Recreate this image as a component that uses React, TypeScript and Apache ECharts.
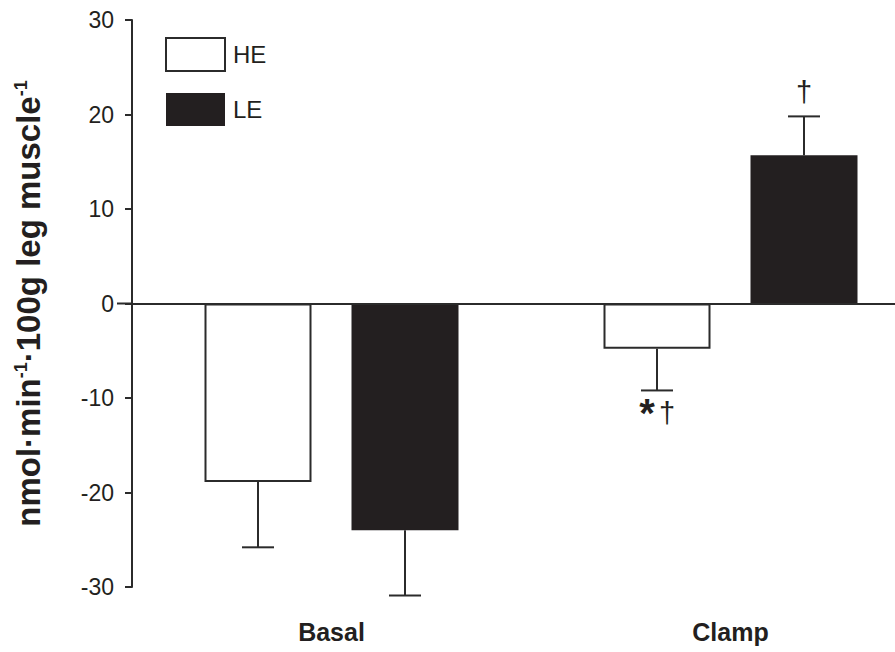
import React, { useEffect, useRef } from "react";
import * as echarts from "echarts";

// Leg muscle flux, mean ± SE, for the two groups in the basal and clamp states
const categories = ["Basal", "Clamp"];
const groups = ["HE", "LE"];
const heValues = [-18.9, -4.8];
const heErrors = [6.9, 4.4];
const leValues = [-24.0, 15.7];
const leErrors = [6.9, 4.1];
const heMarks = ["", "*†"];
const leMarks = ["", "†"];
const yTicks = { min: -30, max: 30, interval: 10 };

const FONT = "'Liberation Sans', Arial, Helvetica, sans-serif";
const INK = "#231f20";
const LINE = "#2b2b2b";
const BAR_W = 107;
const BAR_GAP = 40;

export default function App() {
  const ref = useRef<HTMLDivElement>(null);

  useEffect(() => {
    document.body.style.margin = "0";
    const chart = echarts.init(ref.current!, null, { renderer: "svg" });

    const errData: number[][] = [];
    const errMarks: string[] = [];
    [heValues, leValues].forEach((vals, g) => {
      const errs = g === 0 ? heErrors : leErrors;
      const marks = g === 0 ? heMarks : leMarks;
      vals.forEach((v, i) => {
        errData.push([i, v, errs[i], g]);
        errMarks.push(marks[i]);
      });
    });

    const half = (BAR_W + BAR_GAP) / 2;

    chart.setOption({
      animation: false,
      // the plotting area runs on past the right edge of the figure
      grid: {
        left: 132,
        width: 798,
        top: 20,
        bottom: 65,
        containLabel: false,
        outerBoundsMode: "none",
      },
      legend: {
        left: 165,
        top: 37,
        orient: "vertical",
        padding: 0,
        itemWidth: 59,
        itemHeight: 33,
        itemGap: 21,
        icon: "rect",
        textStyle: { fontFamily: FONT, fontSize: 24, color: INK, padding: [0, 0, 0, 3] },
        data: [
          { name: "HE", itemStyle: { color: "#ffffff", borderColor: LINE, borderWidth: 2 } },
          { name: "LE", itemStyle: { color: INK, borderColor: INK, borderWidth: 0 } },
        ],
      },
      xAxis: {
        type: "category",
        data: categories,
        axisLine: { show: false, onZero: false },
        axisTick: { show: false },
        axisLabel: {
          fontFamily: FONT,
          fontSize: 25,
          fontWeight: "bold",
          color: INK,
          margin: 32,
        },
      },
      yAxis: {
        type: "value",
        min: yTicks.min,
        max: yTicks.max,
        interval: yTicks.interval,
        splitLine: { show: false },
        axisLine: { show: true, lineStyle: { color: LINE, width: 2 } },
        axisTick: { show: true, length: 7, lineStyle: { color: LINE, width: 2 } },
        axisLabel: { fontFamily: FONT, fontSize: 23, color: INK, margin: 18 },
        name: "nmol·min{sup|-1}·100g leg muscle{sup|-1}",
        nameLocation: "middle",
        nameRotate: 90,
        nameGap: 87,
        nameTextStyle: {
          fontFamily: FONT,
          fontSize: 33,
          fontWeight: "bold",
          color: INK,
          rich: {
            sup: {
              fontFamily: FONT,
              fontSize: 18,
              fontWeight: "bold",
              color: INK,
              verticalAlign: "top",
            },
          },
        },
      },
      series: [
        {
          name: groups[0],
          type: "bar",
          data: heValues,
          barWidth: BAR_W,
          barGap: (BAR_GAP / BAR_W) * 100 + "%",
          itemStyle: { color: "#ffffff", borderColor: LINE, borderWidth: 2 },
          markLine: {
            silent: true,
            symbol: ["none", "none"],
            label: { show: false },
            lineStyle: { color: LINE, width: 2, type: "solid" },
            data: [{ yAxis: 0 }],
          },
        },
        {
          name: groups[1],
          type: "bar",
          data: leValues,
          barWidth: BAR_W,
          itemStyle: { color: INK, borderColor: INK, borderWidth: 0 },
        },
        {
          type: "custom",
          clip: false,
          silent: true,
          encode: { x: 0, y: 1 },
          data: errData,
          z: 5,
          renderItem: (params: any, api: any) => {
            const i = api.value(0);
            const mean = api.value(1);
            const err = api.value(2);
            const g = api.value(3);
            const x = api.coord([i, 0])[0] + (g === 0 ? -half : half);
            const y0 = api.coord([i, mean])[1];
            const end = mean < 0 ? mean - err : mean + err;
            const y1 = api.coord([i, end])[1];
            const stroke = { stroke: LINE, lineWidth: 2 };
            const children: any[] = [
              { type: "line", shape: { x1: x, y1: y0, x2: x, y2: y1 }, style: stroke },
              { type: "line", shape: { x1: x - 16, y1: y1, x2: x + 16, y2: y1 }, style: stroke },
            ];
            if (params.dataIndex === 0) {
              // zero line pokes out a little to the left of the value axis
              const cs = params.coordSys;
              const yz = api.coord([0, 0])[1];
              children.push({
                type: "line",
                shape: { x1: cs.x - 15, y1: yz, x2: cs.x, y2: yz },
                style: stroke,
              });
            }
            const mark = errMarks[params.dataIndex];
            if (mark) {
              const chars = Array.from(mark);
              const step = 20;
              const startX = x - ((chars.length - 1) * step) / 2;
              const below = mean < 0;
              chars.forEach((ch, k) => {
                const isStar = ch === "*";
                children.push({
                  type: "text",
                  x: startX + k * step,
                  y: below ? y1 + (isStar ? 23 : 23) : y1 - 24,
                  style: {
                    text: ch,
                    fill: INK,
                    fontFamily: FONT,
                    fontSize: isStar ? 40 : 29,
                    fontWeight: isStar ? "bold" : "normal",
                    align: "center",
                    verticalAlign: "middle",
                  },
                });
              });
            }
            return { type: "group", children };
          },
        },
      ],
    });

    return () => chart.dispose();
  }, []);

  return <div ref={ref} style={{ width: 895, height: 652 }} />;
}
